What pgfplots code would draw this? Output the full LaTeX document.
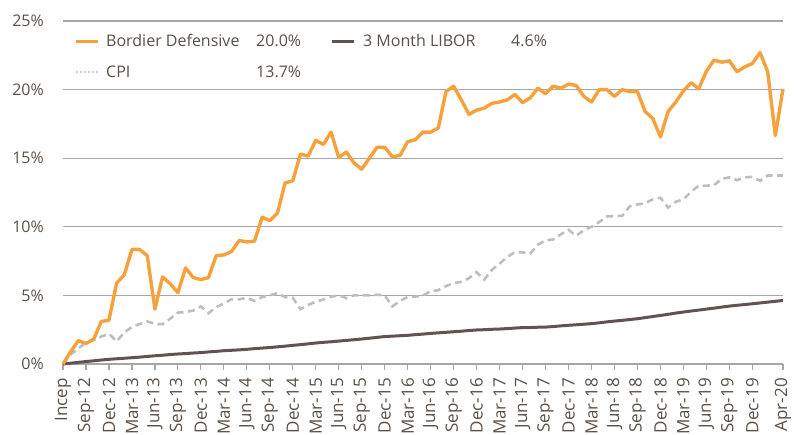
\documentclass[border=0pt]{standalone}
\usepackage{pgfplots}
\pgfplotsset{compat=1.18}
\usepackage{pgfplotstable}
\usepackage{fontspec}
\setmainfont{Open Sans}
\definecolor{bord}{RGB}{247,161,60}
\definecolor{libor}{RGB}{95,84,82}
\definecolor{cpi}{RGB}{190,190,190}
\definecolor{gridc}{RGB}{166,166,166}
\definecolor{txt}{RGB}{90,80,72}

\pgfplotstableread{
i bord cpi libor
0 0 0 0
1 0.9 0.7 0.06
2 1.7 1.15 0.12
3 1.5 1.55 0.18
4 1.8 1.75 0.23
5 3.1 2.0 0.29
6 3.2 2.2 0.34
7 5.9 1.65 0.38
8 6.5 2.3 0.42
9 8.35 2.7 0.46
10 8.35 2.92 0.50
11 7.9 3.1 0.55
12 4.0 2.93 0.60
13 6.35 2.9 0.64
14 5.85 3.3 0.69
15 5.2 3.75 0.73
16 7.0 3.78 0.76
17 6.3 3.9 0.80
18 6.15 4.2 0.83
19 6.3 3.7 0.88
20 7.9 4.15 0.92
21 7.95 4.4 0.97
22 8.2 4.72 1.00
23 9.0 4.72 1.03
24 8.9 4.82 1.07
25 8.95 4.6 1.12
26 10.7 4.88 1.16
27 10.45 5.0 1.20
28 11.0 5.17 1.25
29 13.2 4.87 1.30
30 13.35 4.82 1.36
31 15.3 4.0 1.41
32 15.15 4.3 1.47
33 16.3 4.55 1.53
34 16.0 4.7 1.58
35 16.9 4.9 1.62
36 15.05 5.0 1.67
37 15.45 4.8 1.72
38 14.65 5.0 1.77
39 14.2 5.0 1.82
40 15.0 5.0 1.88
41 15.8 5.05 1.94
42 15.8 5.0 2.00
43 15.1 4.2 2.03
44 15.2 4.6 2.06
45 16.2 4.88 2.09
46 16.35 4.9 2.14
47 16.9 5.0 2.18
48 16.9 5.3 2.23
49 17.2 5.38 2.27
50 19.85 5.68 2.31
51 20.25 5.9 2.35
52 19.25 5.98 2.39
53 18.2 6.25 2.44
54 18.5 6.7 2.48
55 18.65 6.15 2.50
56 19.0 6.86 2.53
57 19.1 7.32 2.55
58 19.25 7.8 2.58
59 19.65 8.15 2.62
60 19.05 8.14 2.65
61 19.4 8.04 2.66
62 20.1 8.7 2.68
63 19.7 9.0 2.69
64 20.25 9.08 2.73
65 20.1 9.45 2.78
66 20.4 9.78 2.82
67 20.3 9.35 2.86
68 19.5 9.75 2.90
69 19.1 10.0 2.94
70 20.0 10.34 3.00
71 20.0 10.75 3.07
72 19.5 10.78 3.13
73 20.0 10.8 3.18
74 19.85 11.5 3.24
75 19.85 11.63 3.30
76 18.4 11.72 3.38
77 17.9 12.0 3.46
78 16.55 12.12 3.54
79 18.4 11.4 3.62
80 19.1 11.82 3.71
81 19.9 12.0 3.79
82 20.5 12.55 3.86
83 20.05 13.0 3.93
84 21.35 13.0 4.00
85 22.15 13.03 4.07
86 22.0 13.5 4.15
87 22.1 13.6 4.22
88 21.3 13.4 4.28
89 21.65 13.6 4.33
90 21.9 13.64 4.39
91 22.7 13.35 4.45
92 21.3 13.74 4.51
93 16.65 13.74 4.57
94 20.05 13.74 4.63
}\datatable

\begin{document}
\begin{tikzpicture}
\begin{axis}[
  at={(0,0)}, anchor=south west,
  scale only axis,
  width=720pt, height=343pt,
  xmin=0, xmax=94, ymin=0, ymax=25,
  axis x line*=bottom, axis y line*=left,
  y axis line style={draw=none},
  x axis line style={draw=gridc, line width=1.3pt},
  ytick={0,5,10,15,20,25},
  yticklabels={0\%,5\%,10\%,15\%,20\%,25\%},
  ytick style={draw=none},
  ymajorgrids,
  grid style={draw=gridc, line width=1.3pt},
  xtick={0,3,...,90,94},
  xticklabels={Incep,Sep-12,Dec-12,Mar-13,Jun-13,Sep-13,Dec-13,Mar-14,Jun-14,Sep-14,Dec-14,Mar-15,Jun-15,Sep-15,Dec-15,Mar-16,Jun-16,Sep-16,Dec-16,Mar-17,Jun-17,Sep-17,Dec-17,Mar-18,Jun-18,Sep-18,Dec-18,Mar-19,Jun-19,Sep-19,Dec-19,Apr-20},
  xtick style={draw=gridc, line width=1.2pt},
  tick align=outside,
  major tick length=6pt,
  xticklabel shift=8pt,
  yticklabel shift=13pt,
  xticklabel style={rotate=90, anchor=east, font=\fontsize{17}{20}\selectfont, text=txt, inner sep=0pt},
  yticklabel style={font=\fontsize{16}{19}\selectfont, text=txt, inner sep=0pt},
  legend style={draw=none, fill=none, at={(0,1)}, anchor=north west, xshift=8pt, yshift=-9pt,
     font=\fontsize{16}{19}\selectfont, text=txt, row sep=14pt, column sep=0pt},
  legend columns=2,
  legend cell align=left,
  legend image code/.code={\draw[#1] (0pt,0pt) -- (22pt,0pt);},
  clip=false,
]
\addlegendimage{draw=bord, line width=3pt}
\addlegendentry{\hspace*{5pt}\makebox[150pt][l]{Bordier Defensive}\makebox[72pt][l]{20.0\%}}
\addlegendimage{draw=libor, line width=3pt}
\addlegendentry{\hspace*{6pt}\makebox[148pt][l]{3 Month LIBOR}4.6\%}
\addlegendimage{draw=cpi!70, line width=2pt, dash pattern=on 2pt off 2pt}
\addlegendentry{\hspace*{5pt}\makebox[150pt][l]{CPI}13.7\%}

\addplot[forget plot, draw=cpi, line width=2.6pt, dash pattern=on 7pt off 4.5pt] table[x=i, y=cpi] {\datatable};
\addplot[forget plot, draw=libor, line width=3pt] table[x=i, y=libor] {\datatable};
\addplot[forget plot, draw=bord, line width=3.4pt, line join=round] table[x=i, y=bord] {\datatable};
\end{axis}
\pgfresetboundingbox
\path[use as bounding box] (-63pt,-71pt) rectangle (736pt,364pt);
\end{tikzpicture}
\end{document}
